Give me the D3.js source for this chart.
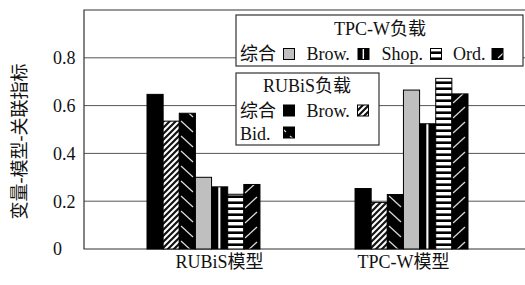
<!DOCTYPE html>
<html><head><meta charset="utf-8">
<script src="https://cdn.jsdelivr.net/npm/d3@7"></script>
<style>
html,body{margin:0;padding:0;background:#fff;}
svg text{font-family:"Liberation Serif","Noto Sans CJK SC",serif;fill:#111;}
</style></head>
<body><svg id="c" width="525" height="285"></svg>
<script>
const categories = ["RUBiS模型", "TPC-W模型"];
const seriesNames = ["RUBiS 综合", "RUBiS Brow.", "RUBiS Bid.", "TPC-W 综合", "TPC-W Brow.", "TPC-W Shop.", "TPC-W Ord."];
const rubisModelValues = [0.647, 0.535, 0.568, 0.300, 0.260, 0.229, 0.270];
const tpcwModelValues  = [0.253, 0.195, 0.228, 0.665, 0.524, 0.714, 0.649];
const yTicks = [0, 0.2, 0.4, 0.6, 0.8];
const yTickLabels = ["0", "0.2", "0.4", "0.6", "0.8"];
const yTitle = "变量-模型-关联指标";
const tpcwLegendTitle = "TPC-W负载";
const rubisLegendTitle = "RUBiS负载";
const tpcwLegendLabels = ["综合", "Brow.", "Shop.", "Ord."];
const rubisLegendLabels = ["综合", "Brow.", "Bid."];

const valuesByCategory = [rubisModelValues, tpcwModelValues];
const svg = d3.select("#c");
const W = 525, H = 285;
const plot = {left: 84, top: 10, bottom: 249, right: 530};

// patterns
const defs = svg.append("defs");
function pat(id, w, h, build, bg) {
  const p = defs.append("pattern").attr("id", id).attr("patternUnits", "userSpaceOnUse")
    .attr("width", w).attr("height", h);
  p.append("rect").attr("width", w).attr("height", h).attr("fill", bg);
  build(p);
}
// RUBiS Brow: fine "/" stripes
pat("pBrowR", 6, 6, p => {
  p.append("path").attr("d", "M-1,1 L1,-1 M0,6 L6,0 M5,7 L7,5").attr("stroke", "#111").attr("stroke-width", 2.2);
}, "#fff");
// RUBiS Bid: black with "\" light dashes
pat("pBid", 16, 15, p => {
  p.append("path").attr("d", "M2,1 L14,12").attr("stroke", "#ddd").attr("stroke-width", 1.2);
}, "#000");
// TPC-W Shop: horizontal stripes
pat("pShop", 6, 6, p => {
  p.append("rect").attr("x", 0).attr("y", 0).attr("width", 6).attr("height", 3.4).attr("fill", "#fff");
}, "#000");
// TPC-W Ord: black with "/" light dashes
pat("pOrd", 16, 15, p => {
  p.append("path").attr("d", "M2,13 L14,2").attr("stroke", "#ddd").attr("stroke-width", 1.2);
}, "#000");
// TPC-W Brow: black with white vertical line (bbox units)
const pb = defs.append("pattern").attr("id", "pBrowT").attr("patternContentUnits", "objectBoundingBox")
  .attr("width", 1).attr("height", 1);
pb.append("rect").attr("width", 1).attr("height", 1).attr("fill", "#000");
pb.append("rect").attr("x", 0.42).attr("width", 0.13).attr("height", 1).attr("fill", "#fff");

const fills = ["#000", "url(#pBrowR)", "url(#pBid)", "#bfbfbf", "url(#pBrowT)", "url(#pShop)", "url(#pOrd)"];

const y = d3.scaleLinear().domain([0, 1]).range([plot.bottom, plot.top]);
const x0 = d3.scaleBand().domain(categories).range([147, 468]).paddingInner(0.457).paddingOuter(0);
const x1 = d3.scaleBand().domain(seriesNames).range([0, x0.bandwidth()]);

// gridlines
svg.append("g").selectAll("line").data(yTicks.filter(t => t > 0)).join("line")
  .attr("x1", plot.left).attr("x2", plot.right)
  .attr("y1", d => y(d)).attr("y2", d => y(d))
  .attr("stroke", "#555").attr("stroke-width", 1);

// frame
svg.append("path")
  .attr("d", `M${plot.right},${plot.top} L${plot.left},${plot.top} L${plot.left},${plot.bottom} L${plot.right},${plot.bottom}`)
  .attr("fill", "none").attr("stroke", "#333").attr("stroke-width", 1.2);

// y tick labels (left aligned)
svg.append("g").selectAll("text").data(yTicks).join("text")
  .attr("x", 53).attr("y", d => y(d)).attr("dy", "0.35em")
  .attr("font-size", 18).text((d, i) => yTickLabels[i]);

// y title
svg.append("text").attr("transform", `translate(26,${(plot.top + plot.bottom) / 2 + 12}) rotate(-90)`)
  .attr("text-anchor", "middle").attr("font-size", 18).attr("fill", "#333").text(yTitle);

// bars
const groups = svg.append("g").selectAll("g").data(categories).join("g")
  .attr("transform", d => `translate(${x0(d)},0)`);
groups.selectAll("rect").data((c, ci) => seriesNames.map((s, si) => ({s, si, v: valuesByCategory[ci][si]})))
  .join("rect")
  .attr("x", d => x1(d.s)).attr("width", x1.bandwidth())
  .attr("y", d => y(d.v)).attr("height", d => y(0) - y(d.v))
  .attr("fill", d => fills[d.si]).attr("stroke", "#000").attr("stroke-width", 1);

// x labels
const labelShift = [16, -8];
svg.append("g").selectAll("text").data(categories).join("text")
  .attr("x", (d, i) => x0(d) + x0.bandwidth() / 2 + labelShift[i]).attr("y", 268)
  .attr("text-anchor", "middle").attr("font-size", 18).text(d => d);

// legends
function swatch(g, x, yy, fill) {
  g.append("rect").attr("x", x).attr("y", yy).attr("width", 11).attr("height", 11)
    .attr("fill", fill).attr("stroke", "#000").attr("stroke-width", 1);
}
// TPC-W legend
const lt = svg.append("g");
lt.append("rect").attr("x", 236).attr("y", 15).attr("width", 287).attr("height", 51)
  .attr("fill", "#fff").attr("stroke", "#333").attr("stroke-width", 1.2);
lt.append("text").attr("x", 380).attr("y", 35).attr("text-anchor", "middle").attr("font-size", 18).text(tpcwLegendTitle);
const tX = [240, 306.5, 381.5, 453];
const tS = [283.5, 358, 430.5, 492];
tpcwLegendLabels.forEach((l, i) => {
  lt.append("text").attr("x", tX[i]).attr("y", 60).attr("font-size", 18).text(l);
  swatch(lt, tS[i], 48.5, fills[3 + i]);
});
// RUBiS legend
const lr = svg.append("g");
lr.append("rect").attr("x", 236).attr("y", 73).attr("width", 143).attr("height", 72)
  .attr("fill", "#fff").attr("stroke", "#333").attr("stroke-width", 1.2);
lr.append("text").attr("x", 307).attr("y", 91.5).attr("text-anchor", "middle").attr("font-size", 18).text(rubisLegendTitle);
const rPos = [[240, 116.5, 283.5, 105], [306.5, 116.5, 357.5, 105], [240, 140, 283.5, 127]];
rubisLegendLabels.forEach((l, i) => {
  const p = rPos[i];
  lr.append("text").attr("x", p[0]).attr("y", p[1]).attr("font-size", 18).text(l);
  swatch(lr, p[2], p[3], fills[i]);
});
</script></body></html>
